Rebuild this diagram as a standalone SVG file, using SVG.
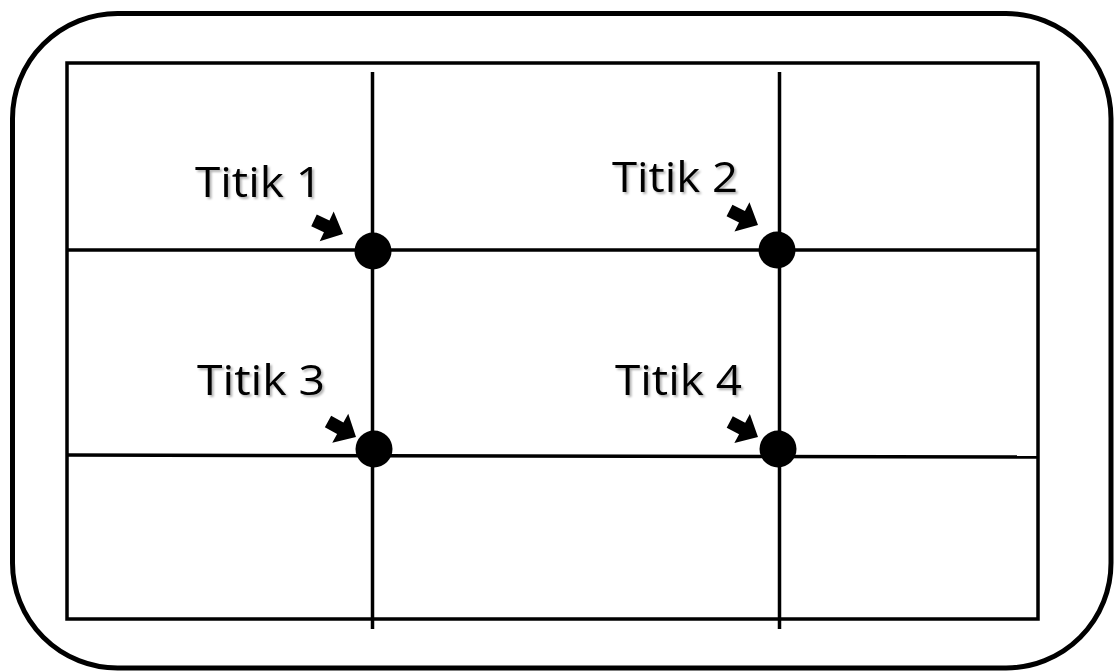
<svg xmlns="http://www.w3.org/2000/svg" width="1114" height="671" viewBox="0 0 1114 671">
<style>
.frame{fill:none;stroke:#000;stroke-width:5}
.grid{fill:none;stroke:#000;stroke-width:3.5}
.dot{fill:#000}
.lbl{font-family:"Open Sans","Liberation Sans",sans-serif;font-size:42px;fill:#000}
.arr{fill:#000}
</style>
<defs>
<filter id="sh" x="-10%" y="-20%" width="130%" height="150%">
<feDropShadow dx="2" dy="2" stdDeviation="1.2" flood-color="#000" flood-opacity="0.3"/>
</filter>
<polygon id="ar" points="0,0 -18,16.5 -18,6.5 -32,6.5 -32,-6.5 -18,-6.5 -18,-16.5"/>
</defs>
<rect class="frame" x="12.5" y="13.5" width="1098.5" height="654.5" rx="105" ry="105"/>
<g id="connectors">
<rect class="grid" x="67" y="63" width="971" height="556"/>
<line class="grid" x1="372.5" y1="72" x2="372.5" y2="629"/>
<line class="grid" x1="779.5" y1="72" x2="779.5" y2="629"/>
<line class="grid" x1="67" y1="250" x2="1038" y2="250"/>
<line class="grid" x1="67" y1="455" x2="1038" y2="457"/>
</g>
<g id="titik1">
<text class="lbl" x="195" y="197" textLength="127" lengthAdjust="spacingAndGlyphs" filter="url(#sh)">Titik 1</text>
<use href="#ar" class="arr" transform="translate(343,234) rotate(25)"/>
<circle class="dot" cx="373" cy="251" r="18.5"/>
</g>
<g id="titik2">
<text class="lbl" x="612" y="192" textLength="126" lengthAdjust="spacingAndGlyphs" filter="url(#sh)">Titik 2</text>
<use href="#ar" class="arr" transform="translate(758,225) rotate(27)"/>
<circle class="dot" cx="777" cy="250" r="18.5"/>
</g>
<g id="titik3">
<text class="lbl" x="197" y="395" textLength="128" lengthAdjust="spacingAndGlyphs" filter="url(#sh)">Titik 3</text>
<use href="#ar" class="arr" transform="translate(356,437) rotate(29)"/>
<circle class="dot" cx="374" cy="449" r="18.5"/>
</g>
<g id="titik4">
<text class="lbl" x="615" y="395" textLength="127" lengthAdjust="spacingAndGlyphs" filter="url(#sh)">Titik 4</text>
<use href="#ar" class="arr" transform="translate(758,437) rotate(28)"/>
<circle class="dot" cx="778" cy="449" r="18.5"/>
</g>
</svg>
